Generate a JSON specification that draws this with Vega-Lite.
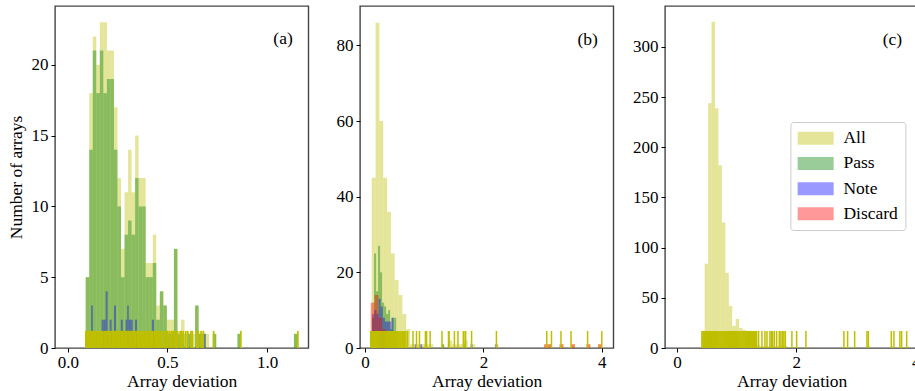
{
  "$schema": "https://vega.github.io/schema/vega-lite/v6.json",
  "padding": {"left": 6, "top": 5, "right": 0, "bottom": 0},
  "background": "white",
  "config": {
    "font": "Liberation Serif",
    "view": {"stroke": "#444", "strokeWidth": 1.4},
    "axis": {
      "labelFont": "Liberation Serif", "titleFont": "Liberation Serif",
      "labelFontSize": 17, "titleFontSize": 17.5, "titleFontWeight": "normal",
      "labelColor": "#000", "titleColor": "#000", "tickColor": "#000",
      "tickSize": 4, "tickWidth": 1, "domain": false, "grid": false,
      "labelPadding": 3, "labelFlush": false
    },
    "axisX": {"titlePadding": 2, "labelPadding": 2},
    "axisY": {"titlePadding": 6},
    "legend": {
      "labelFont": "Liberation Serif", "labelFontSize": 17.5, "labelColor": "#000",
      "symbolType": "M-2.77,-1H2.77V1H-2.77Z", "symbolSize": 169,
      "symbolOffset": 9, "labelOffset": 19,
      "symbolOpacity": 0.4, "symbolStrokeWidth": 0,
      "strokeColor": "#cccccc", "fillColor": "rgba(255,255,255,0.8)", "cornerRadius": 3,
      "padding": 7.5, "rowPadding": 6.2
    }
  },
  "datasets": {
    "a_hist": [
      {"c": "All", "x0": 0.0900, "x1": 0.1077, "n": 5},
      {"c": "All", "x0": 0.1077, "x1": 0.1254, "n": 18},
      {"c": "All", "x0": 0.1254, "x1": 0.1431, "n": 22},
      {"c": "All", "x0": 0.1431, "x1": 0.1608, "n": 20},
      {"c": "All", "x0": 0.1608, "x1": 0.1785, "n": 23},
      {"c": "All", "x0": 0.1785, "x1": 0.1962, "n": 23},
      {"c": "All", "x0": 0.1962, "x1": 0.2139, "n": 21},
      {"c": "All", "x0": 0.2139, "x1": 0.2316, "n": 21},
      {"c": "All", "x0": 0.2316, "x1": 0.2493, "n": 17},
      {"c": "All", "x0": 0.2493, "x1": 0.2670, "n": 12},
      {"c": "All", "x0": 0.2670, "x1": 0.2847, "n": 7},
      {"c": "All", "x0": 0.2847, "x1": 0.3024, "n": 11},
      {"c": "All", "x0": 0.3024, "x1": 0.3201, "n": 14},
      {"c": "All", "x0": 0.3201, "x1": 0.3378, "n": 11},
      {"c": "All", "x0": 0.3378, "x1": 0.3555, "n": 15},
      {"c": "All", "x0": 0.3555, "x1": 0.3732, "n": 12},
      {"c": "All", "x0": 0.3732, "x1": 0.3909, "n": 12},
      {"c": "All", "x0": 0.3909, "x1": 0.4086, "n": 6},
      {"c": "All", "x0": 0.4086, "x1": 0.4263, "n": 6},
      {"c": "All", "x0": 0.4263, "x1": 0.4440, "n": 8},
      {"c": "All", "x0": 0.4440, "x1": 0.4617, "n": 3},
      {"c": "All", "x0": 0.4617, "x1": 0.4794, "n": 4},
      {"c": "All", "x0": 0.4794, "x1": 0.4971, "n": 3},
      {"c": "All", "x0": 0.4971, "x1": 0.5148, "n": 2},
      {"c": "All", "x0": 0.5148, "x1": 0.5325, "n": 2},
      {"c": "All", "x0": 0.5325, "x1": 0.5502, "n": 7},
      {"c": "All", "x0": 0.5502, "x1": 0.5679, "n": 1},
      {"c": "All", "x0": 0.5679, "x1": 0.5856, "n": 2},
      {"c": "All", "x0": 0.5856, "x1": 0.6033, "n": 1},
      {"c": "All", "x0": 0.6033, "x1": 0.6210, "n": 1},
      {"c": "All", "x0": 0.6210, "x1": 0.6387, "n": 1},
      {"c": "All", "x0": 0.6387, "x1": 0.6564, "n": 3},
      {"c": "All", "x0": 0.6564, "x1": 0.6741, "n": 1},
      {"c": "All", "x0": 0.6741, "x1": 0.6918, "n": 1},
      {"c": "All", "x0": 0.6918, "x1": 0.7095, "n": 1},
      {"c": "All", "x0": 0.7272, "x1": 0.7449, "n": 1},
      {"c": "All", "x0": 0.8511, "x1": 0.8688, "n": 1},
      {"c": "All", "x0": 1.1343, "x1": 1.1520, "n": 1},
      {"c": "Pass", "x0": 0.0900, "x1": 0.1077, "n": 5},
      {"c": "Pass", "x0": 0.1077, "x1": 0.1254, "n": 14},
      {"c": "Pass", "x0": 0.1254, "x1": 0.1431, "n": 21},
      {"c": "Pass", "x0": 0.1431, "x1": 0.1608, "n": 18},
      {"c": "Pass", "x0": 0.1608, "x1": 0.1785, "n": 21},
      {"c": "Pass", "x0": 0.1785, "x1": 0.1962, "n": 18},
      {"c": "Pass", "x0": 0.1962, "x1": 0.2139, "n": 19},
      {"c": "Pass", "x0": 0.2139, "x1": 0.2316, "n": 19},
      {"c": "Pass", "x0": 0.2316, "x1": 0.2493, "n": 14},
      {"c": "Pass", "x0": 0.2493, "x1": 0.2670, "n": 10},
      {"c": "Pass", "x0": 0.2670, "x1": 0.2847, "n": 5},
      {"c": "Pass", "x0": 0.2847, "x1": 0.3024, "n": 8},
      {"c": "Pass", "x0": 0.3024, "x1": 0.3201, "n": 9},
      {"c": "Pass", "x0": 0.3201, "x1": 0.3378, "n": 8},
      {"c": "Pass", "x0": 0.3378, "x1": 0.3555, "n": 12},
      {"c": "Pass", "x0": 0.3555, "x1": 0.3732, "n": 10},
      {"c": "Pass", "x0": 0.3732, "x1": 0.3909, "n": 10},
      {"c": "Pass", "x0": 0.3909, "x1": 0.4086, "n": 5},
      {"c": "Pass", "x0": 0.4086, "x1": 0.4263, "n": 5},
      {"c": "Pass", "x0": 0.4263, "x1": 0.4440, "n": 6},
      {"c": "Pass", "x0": 0.4440, "x1": 0.4617, "n": 2},
      {"c": "Pass", "x0": 0.4617, "x1": 0.4794, "n": 4},
      {"c": "Pass", "x0": 0.4794, "x1": 0.4971, "n": 3},
      {"c": "Pass", "x0": 0.4971, "x1": 0.5148, "n": 1},
      {"c": "Pass", "x0": 0.5148, "x1": 0.5325, "n": 1},
      {"c": "Pass", "x0": 0.5325, "x1": 0.5502, "n": 7},
      {"c": "Pass", "x0": 0.5502, "x1": 0.5679, "n": 1},
      {"c": "Pass", "x0": 0.5679, "x1": 0.5856, "n": 1},
      {"c": "Pass", "x0": 0.6033, "x1": 0.6210, "n": 1},
      {"c": "Pass", "x0": 0.6387, "x1": 0.6564, "n": 3},
      {"c": "Pass", "x0": 0.6564, "x1": 0.6741, "n": 1},
      {"c": "Pass", "x0": 0.6741, "x1": 0.6918, "n": 1},
      {"c": "Pass", "x0": 0.7272, "x1": 0.7449, "n": 1},
      {"c": "Pass", "x0": 0.8511, "x1": 0.8688, "n": 1},
      {"c": "Pass", "x0": 1.1343, "x1": 1.1520, "n": 1},
      {"c": "Note", "x0": 0.117, "x1": 0.126, "n": 3},
      {"c": "Note", "x0": 0.170, "x1": 0.180, "n": 2},
      {"c": "Note", "x0": 0.180, "x1": 0.190, "n": 2},
      {"c": "Note", "x0": 0.190, "x1": 0.200, "n": 4},
      {"c": "Note", "x0": 0.210, "x1": 0.220, "n": 2},
      {"c": "Note", "x0": 0.232, "x1": 0.242, "n": 3},
      {"c": "Note", "x0": 0.266, "x1": 0.276, "n": 2},
      {"c": "Note", "x0": 0.290, "x1": 0.298, "n": 2},
      {"c": "Note", "x0": 0.298, "x1": 0.306, "n": 3},
      {"c": "Note", "x0": 0.306, "x1": 0.316, "n": 2},
      {"c": "Note", "x0": 0.316, "x1": 0.326, "n": 2},
      {"c": "Note", "x0": 0.337, "x1": 0.347, "n": 2},
      {"c": "Note", "x0": 0.422, "x1": 0.432, "n": 2},
      {"c": "Note", "x0": 0.490, "x1": 0.499, "n": 1},
      {"c": "Note", "x0": 0.520, "x1": 0.529, "n": 1},
      {"c": "Note", "x0": 0.683, "x1": 0.692, "n": 1}
    ],
    "a_rug": [
      {"v": 0.091}, {"v": 0.097}, {"v": 0.104}, {"v": 0.110}, {"v": 0.117}, {"v": 0.124}, {"v": 0.130}, {"v": 0.137},
      {"v": 0.143}, {"v": 0.150}, {"v": 0.157}, {"v": 0.163}, {"v": 0.170}, {"v": 0.176}, {"v": 0.183}, {"v": 0.190},
      {"v": 0.196}, {"v": 0.203}, {"v": 0.209}, {"v": 0.216}, {"v": 0.223}, {"v": 0.229}, {"v": 0.236}, {"v": 0.242},
      {"v": 0.249}, {"v": 0.256}, {"v": 0.262}, {"v": 0.269}, {"v": 0.275}, {"v": 0.282}, {"v": 0.289}, {"v": 0.295},
      {"v": 0.302}, {"v": 0.308}, {"v": 0.315}, {"v": 0.322}, {"v": 0.328}, {"v": 0.335}, {"v": 0.341}, {"v": 0.348},
      {"v": 0.355}, {"v": 0.361}, {"v": 0.368}, {"v": 0.374}, {"v": 0.381}, {"v": 0.388}, {"v": 0.394}, {"v": 0.401},
      {"v": 0.407}, {"v": 0.414}, {"v": 0.421}, {"v": 0.427}, {"v": 0.434}, {"v": 0.440}, {"v": 0.447}, {"v": 0.453},
      {"v": 0.459}, {"v": 0.468}, {"v": 0.474}, {"v": 0.486}, {"v": 0.493}, {"v": 0.501}, {"v": 0.511}, {"v": 0.521},
      {"v": 0.528}, {"v": 0.538}, {"v": 0.546}, {"v": 0.551}, {"v": 0.564}, {"v": 0.571}, {"v": 0.579}, {"v": 0.592},
      {"v": 0.602}, {"v": 0.618}, {"v": 0.625}, {"v": 0.648}, {"v": 0.655}, {"v": 0.669}, {"v": 0.680}, {"v": 0.732},
      {"v": 0.868}, {"v": 1.154}
    ],
    "b_hist": [
      {"c": "All", "x0": 0.1130, "x1": 0.1778, "n": 45},
      {"c": "All", "x0": 0.1778, "x1": 0.2426, "n": 86},
      {"c": "All", "x0": 0.2426, "x1": 0.3074, "n": 60},
      {"c": "All", "x0": 0.3074, "x1": 0.3722, "n": 45},
      {"c": "All", "x0": 0.3722, "x1": 0.4370, "n": 36},
      {"c": "All", "x0": 0.4370, "x1": 0.5018, "n": 25},
      {"c": "All", "x0": 0.5018, "x1": 0.5666, "n": 18},
      {"c": "All", "x0": 0.5666, "x1": 0.6314, "n": 14},
      {"c": "All", "x0": 0.6314, "x1": 0.6962, "n": 9},
      {"c": "All", "x0": 0.6962, "x1": 0.7610, "n": 5},
      {"c": "All", "x0": 0.7610, "x1": 0.8258, "n": 1},
      {"c": "All", "x0": 0.8258, "x1": 0.8906, "n": 1},
      {"c": "All", "x0": 0.8906, "x1": 0.9554, "n": 1},
      {"c": "All", "x0": 0.9554, "x1": 1.0202, "n": 1},
      {"c": "All", "x0": 1.0202, "x1": 1.0850, "n": 1},
      {"c": "All", "x0": 1.0850, "x1": 1.1498, "n": 1},
      {"c": "All", "x0": 1.2794, "x1": 1.3442, "n": 1},
      {"c": "All", "x0": 1.4090, "x1": 1.4738, "n": 2},
      {"c": "All", "x0": 1.4738, "x1": 1.5386, "n": 1},
      {"c": "All", "x0": 1.5386, "x1": 1.6034, "n": 1},
      {"c": "All", "x0": 1.6034, "x1": 1.6682, "n": 1},
      {"c": "All", "x0": 1.6682, "x1": 1.7330, "n": 2},
      {"c": "All", "x0": 1.7978, "x1": 1.8626, "n": 1},
      {"c": "All", "x0": 2.1866, "x1": 2.2514, "n": 1},
      {"c": "All", "x0": 3.0290, "x1": 3.0938, "n": 1},
      {"c": "All", "x0": 3.0938, "x1": 3.1586, "n": 1},
      {"c": "All", "x0": 3.2882, "x1": 3.3530, "n": 1},
      {"c": "All", "x0": 3.4826, "x1": 3.5474, "n": 1},
      {"c": "All", "x0": 3.7418, "x1": 3.8066, "n": 1},
      {"c": "All", "x0": 3.9362, "x1": 4.0010, "n": 1},
      {"c": "Pass", "x0": 0.118, "x1": 0.152, "n": 8},
      {"c": "Pass", "x0": 0.152, "x1": 0.186, "n": 25},
      {"c": "Pass", "x0": 0.186, "x1": 0.220, "n": 15},
      {"c": "Pass", "x0": 0.220, "x1": 0.254, "n": 27},
      {"c": "Pass", "x0": 0.254, "x1": 0.288, "n": 20},
      {"c": "Pass", "x0": 0.288, "x1": 0.322, "n": 12},
      {"c": "Pass", "x0": 0.322, "x1": 0.356, "n": 11},
      {"c": "Pass", "x0": 0.356, "x1": 0.390, "n": 9},
      {"c": "Pass", "x0": 0.390, "x1": 0.424, "n": 10},
      {"c": "Pass", "x0": 0.424, "x1": 0.458, "n": 5},
      {"c": "Pass", "x0": 0.458, "x1": 0.492, "n": 8},
      {"c": "Pass", "x0": 0.492, "x1": 0.526, "n": 8},
      {"c": "Pass", "x0": 1.300, "x1": 1.334, "n": 1},
      {"c": "Pass", "x0": 1.400, "x1": 1.434, "n": 1},
      {"c": "Pass", "x0": 1.660, "x1": 1.694, "n": 1},
      {"c": "Note", "x0": 0.120, "x1": 0.156, "n": 9},
      {"c": "Note", "x0": 0.156, "x1": 0.192, "n": 10},
      {"c": "Note", "x0": 0.192, "x1": 0.228, "n": 9},
      {"c": "Note", "x0": 0.228, "x1": 0.264, "n": 13},
      {"c": "Note", "x0": 0.264, "x1": 0.300, "n": 11},
      {"c": "Note", "x0": 0.300, "x1": 0.336, "n": 8},
      {"c": "Note", "x0": 0.336, "x1": 0.372, "n": 7},
      {"c": "Note", "x0": 0.372, "x1": 0.408, "n": 7},
      {"c": "Note", "x0": 0.408, "x1": 0.444, "n": 7},
      {"c": "Note", "x0": 0.444, "x1": 0.480, "n": 8},
      {"c": "Note", "x0": 0.840, "x1": 0.876, "n": 1},
      {"c": "Note", "x0": 0.930, "x1": 0.966, "n": 1},
      {"c": "Note", "x0": 1.780, "x1": 1.816, "n": 1},
      {"c": "Note", "x0": 2.200, "x1": 2.236, "n": 1},
      {"c": "Discard", "x0": 0.0960, "x1": 0.1611, "n": 12},
      {"c": "Discard", "x0": 0.1611, "x1": 0.2262, "n": 14},
      {"c": "Discard", "x0": 0.2262, "x1": 0.2913, "n": 8},
      {"c": "Discard", "x0": 0.2913, "x1": 0.3564, "n": 5},
      {"c": "Discard", "x0": 3.0255, "x1": 3.0906, "n": 1},
      {"c": "Discard", "x0": 3.0906, "x1": 3.1557, "n": 1},
      {"c": "Discard", "x0": 3.2859, "x1": 3.3510, "n": 1},
      {"c": "Discard", "x0": 3.4812, "x1": 3.5463, "n": 1},
      {"c": "Discard", "x0": 3.7416, "x1": 3.8067, "n": 1},
      {"c": "Discard", "x0": 3.9369, "x1": 4.0020, "n": 1}
    ],
    "b_rug": [
      {"v": 0.095}, {"v": 0.111}, {"v": 0.127}, {"v": 0.143}, {"v": 0.159}, {"v": 0.175}, {"v": 0.191}, {"v": 0.207},
      {"v": 0.223}, {"v": 0.239}, {"v": 0.255}, {"v": 0.271}, {"v": 0.287}, {"v": 0.303}, {"v": 0.319}, {"v": 0.335},
      {"v": 0.351}, {"v": 0.367}, {"v": 0.383}, {"v": 0.399}, {"v": 0.415}, {"v": 0.431}, {"v": 0.447}, {"v": 0.463},
      {"v": 0.479}, {"v": 0.495}, {"v": 0.511}, {"v": 0.527}, {"v": 0.543}, {"v": 0.559}, {"v": 0.575}, {"v": 0.591},
      {"v": 0.607}, {"v": 0.623}, {"v": 0.639}, {"v": 0.655}, {"v": 0.671}, {"v": 0.69}, {"v": 0.72}, {"v": 0.81},
      {"v": 0.87}, {"v": 0.92}, {"v": 1.02}, {"v": 1.04}, {"v": 1.10}, {"v": 1.30}, {"v": 1.41}, {"v": 1.42},
      {"v": 1.51}, {"v": 1.57}, {"v": 1.66}, {"v": 1.69}, {"v": 1.70}, {"v": 1.80}, {"v": 2.22}, {"v": 3.07},
      {"v": 3.15}, {"v": 3.31}, {"v": 3.48}, {"v": 3.76}, {"v": 4.00}
    ],
    "c_hist": [
      {"c": "All", "x0": 0.4640, "x1": 0.5218, "n": 84},
      {"c": "All", "x0": 0.5218, "x1": 0.5796, "n": 244},
      {"c": "All", "x0": 0.5796, "x1": 0.6374, "n": 325},
      {"c": "All", "x0": 0.6374, "x1": 0.6952, "n": 239},
      {"c": "All", "x0": 0.6952, "x1": 0.7530, "n": 182},
      {"c": "All", "x0": 0.7530, "x1": 0.8108, "n": 125},
      {"c": "All", "x0": 0.8108, "x1": 0.8686, "n": 75},
      {"c": "All", "x0": 0.8686, "x1": 0.9264, "n": 42},
      {"c": "All", "x0": 0.9264, "x1": 0.9842, "n": 22},
      {"c": "All", "x0": 0.9842, "x1": 1.0420, "n": 29},
      {"c": "All", "x0": 1.0420, "x1": 1.0998, "n": 20},
      {"c": "All", "x0": 1.0998, "x1": 1.1576, "n": 18},
      {"c": "All", "x0": 1.1576, "x1": 1.2154, "n": 12},
      {"c": "All", "x0": 1.2154, "x1": 1.2732, "n": 8},
      {"c": "All", "x0": 1.2732, "x1": 1.3310, "n": 5},
      {"c": "All", "x0": 1.3310, "x1": 1.3888, "n": 3},
      {"c": "All", "x0": 1.3888, "x1": 1.4466, "n": 2},
      {"c": "All", "x0": 1.4466, "x1": 1.5044, "n": 2},
      {"c": "All", "x0": 1.5044, "x1": 1.5622, "n": 2},
      {"c": "All", "x0": 1.5622, "x1": 1.6200, "n": 3},
      {"c": "All", "x0": 1.6200, "x1": 1.6778, "n": 2},
      {"c": "All", "x0": 1.6778, "x1": 1.7356, "n": 2},
      {"c": "All", "x0": 1.7356, "x1": 1.7934, "n": 3},
      {"c": "All", "x0": 1.7934, "x1": 1.8512, "n": 2},
      {"c": "All", "x0": 1.9092, "x1": 1.9670, "n": 1},
      {"c": "All", "x0": 1.9670, "x1": 2.0248, "n": 1},
      {"c": "All", "x0": 2.1404, "x1": 2.1982, "n": 1},
      {"c": "All", "x0": 2.7760, "x1": 2.8338, "n": 1},
      {"c": "All", "x0": 2.8338, "x1": 2.8916, "n": 1},
      {"c": "All", "x0": 2.9494, "x1": 3.0072, "n": 1},
      {"c": "All", "x0": 3.1806, "x1": 3.2384, "n": 2},
      {"c": "All", "x0": 3.5852, "x1": 3.6430, "n": 2},
      {"c": "All", "x0": 3.7008, "x1": 3.7586, "n": 1},
      {"c": "All", "x0": 3.7586, "x1": 3.8164, "n": 1},
      {"c": "All", "x0": 3.8164, "x1": 3.8742, "n": 1}
    ],
    "c_rug": [
      {"v": 0.418}, {"v": 0.434}, {"v": 0.450}, {"v": 0.466}, {"v": 0.482}, {"v": 0.498}, {"v": 0.514}, {"v": 0.530},
      {"v": 0.546}, {"v": 0.562}, {"v": 0.578}, {"v": 0.594}, {"v": 0.610}, {"v": 0.626}, {"v": 0.642}, {"v": 0.658},
      {"v": 0.674}, {"v": 0.690}, {"v": 0.706}, {"v": 0.722}, {"v": 0.738}, {"v": 0.754}, {"v": 0.770}, {"v": 0.786},
      {"v": 0.802}, {"v": 0.818}, {"v": 0.834}, {"v": 0.850}, {"v": 0.866}, {"v": 0.882}, {"v": 0.898}, {"v": 0.914},
      {"v": 0.930}, {"v": 0.946}, {"v": 0.962}, {"v": 0.978}, {"v": 0.994}, {"v": 1.010}, {"v": 1.026}, {"v": 1.042},
      {"v": 1.058}, {"v": 1.074}, {"v": 1.090}, {"v": 1.106}, {"v": 1.122}, {"v": 1.138}, {"v": 1.154}, {"v": 1.170},
      {"v": 1.186}, {"v": 1.202}, {"v": 1.218}, {"v": 1.234}, {"v": 1.250}, {"v": 1.266}, {"v": 1.282}, {"v": 1.298},
      {"v": 1.313}, {"v": 1.335}, {"v": 1.368}, {"v": 1.424}, {"v": 1.474}, {"v": 1.508}, {"v": 1.558}, {"v": 1.581},
      {"v": 1.603}, {"v": 1.632}, {"v": 1.670}, {"v": 1.715}, {"v": 1.742}, {"v": 1.770}, {"v": 1.792}, {"v": 1.816},
      {"v": 1.926}, {"v": 2.005}, {"v": 2.161}, {"v": 2.797}, {"v": 2.859}, {"v": 2.977}, {"v": 3.183}, {"v": 3.206},
      {"v": 3.591}, {"v": 3.635}, {"v": 3.735}, {"v": 3.764}, {"v": 3.849}
    ]
  },
  "spacing": 51,
  "bounds": "flush",
  "resolve": {"scale": {"color": "independent", "x": "independent", "y": "independent"}, "legend": {"color": "independent"}},
  "hconcat": [
    {
      "width": 253.4, "height": 342,
      "layer": [
        {
          "data": {"name": "a_hist"},
          "mark": {"type": "bar", "opacity": 0.4, "strokeWidth": 0},
          "encoding": {
            "x": {"field": "x0", "type": "quantitative", "title": "Array deviation", "scale": {"domain": [-0.064, 1.207], "nice": false, "zero": false}, "axis": {"values": [0, 0.5, 1], "format": ".1f"}},
            "x2": {"field": "x1"},
            "y": {"field": "n", "type": "quantitative", "stack": null, "title": "Number of arrays", "scale": {"domain": [0, 24.15], "nice": false}, "axis": {"values": [0, 5, 10, 15, 20]}},
            "y2": {"datum": 0},
            "color": {"field": "c", "type": "nominal", "scale": {"domain": ["All", "Pass", "Note", "Discard"], "range": ["#bfbf00", "#008000", "#0000ff", "#ff0000"]}, "legend": null}
          }
        },
        {
          "data": {"name": "a_rug"},
          "mark": {"type": "rule", "color": "#bfbf00", "strokeWidth": 1.8},
          "encoding": {
            "x": {"field": "v", "type": "quantitative", "title": "Array deviation", "scale": {"domain": [-0.064, 1.207], "nice": false, "zero": false}},
            "y": {"datum": 0},
            "y2": {"datum": 1.21}
          }
        },
        {
          "data": {"values": [{"t": "(a)"}]},
          "mark": {"type": "text", "fontSize": 17.5, "font": "Liberation Serif", "color": "#000", "align": "center", "baseline": "middle"},
          "encoding": {"x": {"datum": 1.08}, "y": {"datum": 21.8}, "text": {"field": "t"}}
        }
      ]
    },
    {
      "width": 253.4, "height": 342,
      "layer": [
        {
          "data": {"name": "b_hist"},
          "mark": {"type": "bar", "opacity": 0.4, "strokeWidth": 0},
          "encoding": {
            "x": {"field": "x0", "type": "quantitative", "title": "Array deviation", "scale": {"domain": [-0.085, 4.196], "nice": false, "zero": false}, "axis": {"values": [0, 2, 4], "format": "d"}},
            "x2": {"field": "x1"},
            "y": {"field": "n", "type": "quantitative", "stack": null, "title": null, "scale": {"domain": [0, 90.4], "nice": false}, "axis": {"values": [0, 20, 40, 60, 80]}},
            "y2": {"datum": 0},
            "color": {"field": "c", "type": "nominal", "scale": {"domain": ["All", "Pass", "Note", "Discard"], "range": ["#bfbf00", "#008000", "#0000ff", "#ff0000"]}, "legend": null}
          }
        },
        {
          "data": {"name": "b_rug"},
          "mark": {"type": "rule", "color": "#bfbf00", "strokeWidth": 1.5},
          "encoding": {
            "x": {"field": "v", "type": "quantitative", "title": "Array deviation", "scale": {"domain": [-0.085, 4.196], "nice": false, "zero": false}},
            "y": {"datum": 0},
            "y2": {"datum": 4.5}
          }
        },
        {
          "data": {"values": [{"t": "(b)"}]},
          "mark": {"type": "text", "fontSize": 17.5, "font": "Liberation Serif", "color": "#000", "align": "center", "baseline": "middle"},
          "encoding": {"x": {"datum": 3.76}, "y": {"datum": 81.3}, "text": {"field": "t"}}
        }
      ]
    },
    {
      "width": 253.4, "height": 342,
      "layer": [
        {
          "data": {"name": "c_hist"},
          "mark": {"type": "bar", "opacity": 0.4, "strokeWidth": 0},
          "encoding": {
            "x": {"field": "x0", "type": "quantitative", "title": "Array deviation", "scale": {"domain": [-0.2, 4.045], "nice": false, "zero": false}, "axis": {"values": [0, 2, 4], "format": "d"}},
            "x2": {"field": "x1"},
            "y": {"field": "n", "type": "quantitative", "stack": null, "title": null, "scale": {"domain": [0, 340.8], "nice": false}, "axis": {"values": [0, 50, 100, 150, 200, 250, 300]}},
            "y2": {"datum": 0},
            "color": {"field": "c", "type": "nominal", "scale": {"domain": ["All", "Pass", "Note", "Discard"], "range": ["#bfbf00", "#008000", "#0000ff", "#ff0000"]},
              "legend": {"orient": "none", "legendX": 125.4, "legendY": 116, "title": null}}
          }
        },
        {
          "data": {"name": "c_rug"},
          "mark": {"type": "rule", "color": "#bfbf00", "strokeWidth": 1.5},
          "encoding": {
            "x": {"field": "v", "type": "quantitative", "title": "Array deviation", "scale": {"domain": [-0.2, 4.045], "nice": false, "zero": false}},
            "y": {"datum": 0},
            "y2": {"datum": 17}
          }
        },
        {
          "data": {"values": [{"t": "(c)"}]},
          "mark": {"type": "text", "fontSize": 17.5, "font": "Liberation Serif", "color": "#000", "align": "center", "baseline": "middle"},
          "encoding": {"x": {"datum": 3.61}, "y": {"datum": 306.8}, "text": {"field": "t"}}
        }
      ]
    }
  ]
}
